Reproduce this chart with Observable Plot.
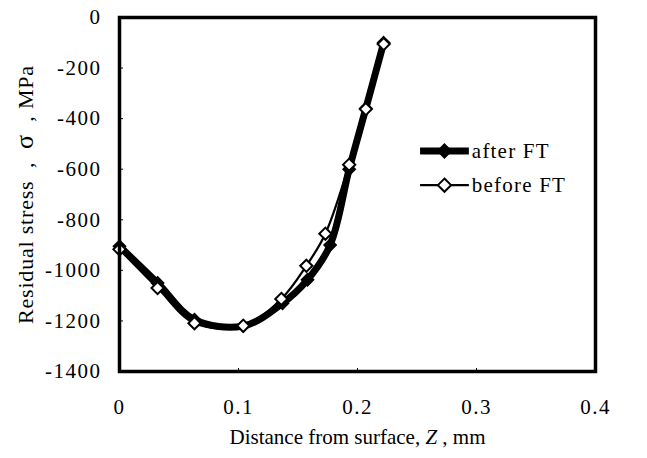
<!DOCTYPE html>
<html><head><meta charset="utf-8">
<script src="https://cdn.jsdelivr.net/npm/d3@7"></script>
<script src="https://cdn.jsdelivr.net/npm/@observablehq/plot@0.6"></script>
<style>
body{margin:0;background:#fff;}
</style></head>
<body><div id="chart"></div>
<script>
const depth = [0, 0.032, 0.063, 0.104, 0.136, 0.157, 0.173, 0.193, 0.207, 0.222];
const depthAfter = [0, 0.032, 0.063, 0.104, 0.137, 0.158, 0.177, 0.193, 0.207, 0.222];
const stressAfter = [-905, -1050, -1195, -1220, -1130, -1037, -900, -600, -360, -100];
const stressBefore = [-917, -1070, -1209, -1219, -1113, -982, -855, -582, -362, -105];
const xTicks = [0, 0.1, 0.2, 0.3, 0.4];
const yTicks = [0, -200, -400, -600, -800, -1000, -1200, -1400];
const seriesNames = ["after FT", "before FT"];

const after = depthAfter.map((z, i) => ({z, s: stressAfter[i]}));
const before = depth.map((z, i) => ({z, s: stressBefore[i]}));
const FONT = "'Liberation Serif', 'Times New Roman', Times, serif";

const plot = Plot.plot({
  width: 647, height: 458,
  marginLeft: 119, marginRight: 52, marginTop: 17, marginBottom: 87,
  style: {fontFamily: FONT, fontSize: "21px", color: "#000", background: "#fff"},
  x: {domain: [0, 0.4]},
  y: {domain: [-1400, 0]},
  marks: [
    Plot.axisY({ticks: yTicks, tickSize: -4, tickPadding: 22, tickFormat: d => d === 0 ? "0" : String(d),
      label: "Residual stress  ,  σ  , MPa", labelAnchor: "center", labelArrow: "none", labelOffset: 102}),
    Plot.axisX({ticks: xTicks, tickSize: -3, tickPadding: 31, tickFormat: d => String(d),
      label: "Distance from surface, Z , mm", labelAnchor: "center", labelArrow: "none", labelOffset: 72}),
    Plot.line(after, {x: "z", y: "s", stroke: "#000", strokeWidth: 7, curve: "catmull-rom"}),
    Plot.dot(after, {x: "z", y: "s", symbol: "diamond2", r: 5.5, fill: "#000", stroke: "#000"}),
    Plot.line(before, {x: "z", y: "s", stroke: "#000", strokeWidth: 2.2, curve: "catmull-rom"}),
    Plot.dot(before, {x: "z", y: "s", symbol: "diamond2", r: 5.5, fill: "#fff", stroke: "#000", strokeWidth: 2}),
    Plot.frame({stroke: "#000", strokeWidth: 3.5})
  ]
});
document.getElementById("chart").append(plot);

const svg = d3.select(plot);

svg.selectAll("text").each(function() {
  const t = d3.select(this);
  const s = t.text();
  if (s === "Distance from surface, Z , mm") {
    t.text("");
    t.append("tspan").text("Distance from surface, ");
    t.append("tspan").attr("font-style", "italic").text("Z");
    t.append("tspan").text(" , mm");
  } else if (s.startsWith("Residual stress")) {
    t.style("white-space", "pre").style("font-size", "22px").style("letter-spacing", "0.8px");
    t.text("");
    t.append("tspan").text("Residual stress  ,  ");
    t.append("tspan").style("font-size", "26px").text("σ");
    t.append("tspan").text("  , MPa");
  }
});

// legend
const xs = plot.scale("x"), ys = plot.scale("y");
const lx0 = xs.apply(0.253), lx1 = xs.apply(0.294);
const ly = [ys.apply(-530), ys.apply(-665)];
const g = svg.append("g").attr("text-anchor", "start");
const sym = d3.symbol(d3.symbolDiamond2, 110);
seriesNames.forEach((name, i) => {
  const y = ly[i];
  g.append("line").attr("x1", lx0).attr("x2", lx1).attr("y1", y).attr("y2", y)
    .attr("stroke", "#000").attr("stroke-width", i === 0 ? 7 : 2.2);
  g.append("path").attr("d", sym()).attr("transform", `translate(${(lx0 + lx1) / 2},${y})`)
    .attr("fill", i === 0 ? "#000" : "#fff").attr("stroke", "#000").attr("stroke-width", 2);
  g.append("text").attr("class", "lbl").attr("x", lx1 + 3).attr("y", y).attr("dy", "0.32em")
    .attr("fill", "#000").text(name);
});

svg.selectAll("text").style("font-family", FONT);
svg.selectAll("g[aria-label='y-axis tick label'] text, g[aria-label='x-axis tick label'] text")
  .style("letter-spacing", "1.5px");
svg.selectAll("text.lbl").style("letter-spacing", "1.2px");
</script></body></html>
